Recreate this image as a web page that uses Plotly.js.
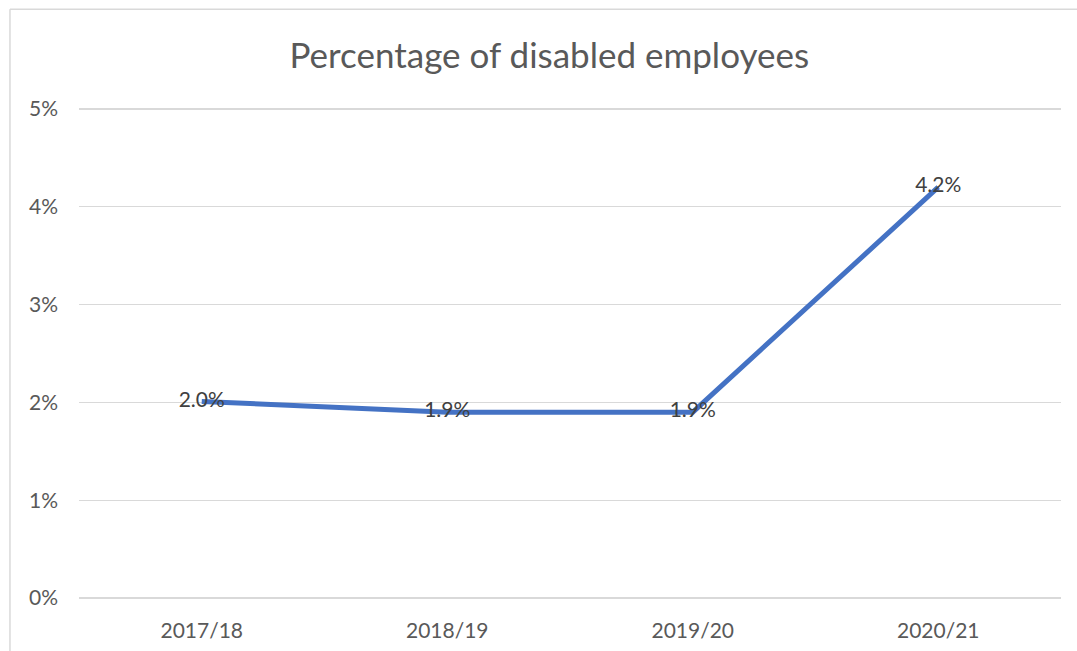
<!DOCTYPE html>
<html>
<head>
<meta charset="utf-8">
<script src="https://cdn.plot.ly/plotly-3.0.1.min.js"></script>
<style>html,body{margin:0;padding:0;background:#fff;}#chart{width:1077px;height:651px;}</style>
</head>
<body>
<div id="chart"></div>
<script>
const categories = ["2017/18", "2018/19", "2019/20", "2020/21"];
const values = [0.0201, 0.0190, 0.0190, 0.0420];
const labels = ["2.0%", "1.9%", "1.9%", "4.2%"];
const yTicks = [0, 0.01, 0.02, 0.03, 0.04, 0.05];
const yTickText = ["0%", "1%", "2%", "3%", "4%", "5%"];

const FONT = "Lato, 'Open Sans', sans-serif";

const trace = {
  x: categories,
  y: values,
  text: labels,
  type: "scatter",
  mode: "lines+text",
  textposition: "middle center",
  textfont: {family: FONT, size: 21, color: "#404040"},
  line: {color: "#4472C4", width: 5},
  hoverinfo: "skip",
  cliponaxis: false
};

const layout = {
  width: 1077,
  height: 651,
  margin: {l: 79, r: 16, t: 103.6, b: 48.1},
  paper_bgcolor: "#ffffff",
  plot_bgcolor: "#ffffff",
  showlegend: false,
  font: {family: FONT, color: "#595959"},
  title: {
    text: "Percentage of disabled employees",
    font: {family: FONT, size: 35, color: "#595959"},
    x: 0.51, xanchor: "center",
    y: 0.915, yanchor: "middle"
  },
  xaxis: {
    type: "category",
    range: [-0.5, 3.5],
    showgrid: false,
    zeroline: false,
    showline: false,
    ticks: "",
    tickfont: {family: FONT, size: 21, color: "#595959"},
    ticklabelstandoff: 13
  },
  yaxis: {
    range: [-0.0005, 0.0505],
    tickvals: yTicks,
    ticktext: yTickText,
    showgrid: true,
    gridcolor: "#d9d9d9",
    gridwidth: 1.5,
    zeroline: false,
    showline: false,
    ticks: "",
    tickfont: {family: FONT, size: 21, color: "#595959"},
    ticklabelstandoff: 20
  },
  shapes: [
    {type: "line", xref: "paper", yref: "paper", x0: -0.0703, x1: -0.0703, y0: 1.19, y1: -0.2,
     line: {color: "#d9d9d9", width: 1.5}},
    {type: "line", xref: "paper", yref: "paper", x0: -0.0703, x1: 1.05, y0: 1.19, y1: 1.19,
     line: {color: "#d9d9d9", width: 1.5}}
  ]
};

Plotly.newPlot("chart", [trace], layout, {staticPlot: true, displayModeBar: false});
</script>
</body>
</html>
